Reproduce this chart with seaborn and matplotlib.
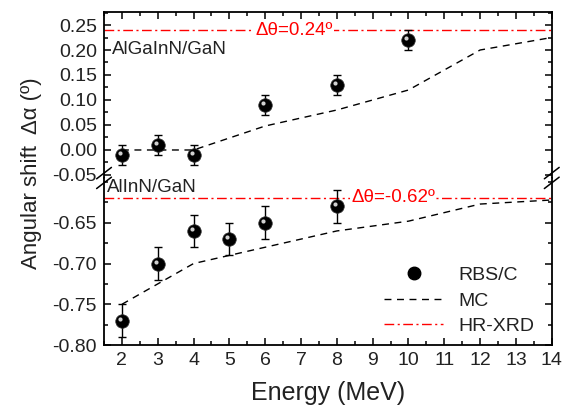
import numpy as np
import pandas as pd
import seaborn as sns
import matplotlib.pyplot as plt
from matplotlib.lines import Line2D
from matplotlib.ticker import MultipleLocator
from matplotlib.transforms import offset_copy

# AlGaInN/GaN (top panel)
e_top = [2, 3, 4, 6, 8, 10]
rbs_top = [-0.01, 0.01, -0.01, 0.09, 0.13, 0.22]
err_top = [0.02, 0.02, 0.02, 0.02, 0.02, 0.02]
mc_e_top = [2, 3, 4, 6, 8, 10, 12, 14]
mc_top = [0.0, 0.0, 0.0, 0.048, 0.08, 0.12, 0.20, 0.225]
xrd_top = 0.24

# AlInN/GaN (bottom panel)
e_bot = [2, 3, 4, 5, 6, 8]
rbs_bot = [-0.77, -0.70, -0.66, -0.67, -0.65, -0.63]
err_bot = [0.02, 0.02, 0.02, 0.02, 0.02, 0.02]
mc_e_bot = [2, 3, 4, 5, 6, 8, 10, 12, 14]
mc_bot = [-0.75, -0.725, -0.70, -0.69, -0.68, -0.66, -0.648, -0.627, -0.622]
xrd_bot = -0.62

sns.set_style("ticks")
plt.rcParams['font.family'] = ['Liberation Sans', 'DejaVu Sans']
plt.rcParams['xtick.direction'] = 'in'
plt.rcParams['ytick.direction'] = 'in'

fig = plt.figure(figsize=(5.7, 4.07), dpi=100)
ax1 = fig.add_axes([0.1825, 0.5627, 0.7855, 0.4078])
ax2 = fig.add_axes([0.1825, 0.1523, 0.7855, 0.4104])

dash_red = (0, (7, 2.5, 1.5, 2.5))
txt = '#222222'

def draw(ax, e, rbs, err, mce, mc, xrd):
    sns.lineplot(x=mce, y=mc, ax=ax, color='black', lw=1, linestyle=(0, (5, 4)))
    ax.axhline(xrd, color='red', lw=1, linestyle=dash_red, zorder=1)
    ax.errorbar(e, rbs, yerr=err, fmt='none', ecolor='black', elinewidth=1,
                capsize=3, capthick=1, zorder=3)
    sns.scatterplot(x=e, y=rbs, ax=ax, color='black', s=95, edgecolor='#333333',
                    linewidth=0.5, zorder=4)
    # small highlight (up-left) to imitate shaded spheres
    ax.plot(e, rbs, 'o', ls='none', color='#d0d0d0', markersize=3, mew=0, zorder=5,
            transform=offset_copy(ax.transData, fig=fig, x=-2, y=2, units='dots'))
    ax.set_xlim(1.5, 14)
    ax.xaxis.set_major_locator(MultipleLocator(1))
    ax.xaxis.set_minor_locator(MultipleLocator(0.5))
    ax.yaxis.set_major_locator(MultipleLocator(0.05))
    ax.yaxis.set_minor_locator(MultipleLocator(0.025))
    ax.tick_params(which='both', top=True, right=True, labelsize=14, colors=txt)
    ax.tick_params(which='both', color='black')
    ax.tick_params(which='major', length=5, width=1.1, pad=5)
    ax.tick_params(which='minor', length=3, width=1.1)
    for s in ax.spines.values():
        s.set_linewidth(1.3)
        s.set_color('black')

draw(ax1, e_top, rbs_top, err_top, mc_e_top, mc_top, xrd_top)
draw(ax2, e_bot, rbs_bot, err_bot, mc_e_bot, mc_bot, xrd_bot)

ax1.set_ylim(-0.056, 0.276)
ax2.set_ylim(-0.80, -0.595)
ax1.set_yticks([-0.05, 0.0, 0.05, 0.10, 0.15, 0.20, 0.25])
ax1.set_yticklabels(['-0.05', '0.00', '0.05', '0.10', '0.15', '0.20', '0.25'])
ax2.set_yticks([-0.80, -0.75, -0.70, -0.65])
ax2.set_yticklabels(['-0.80', '-0.75', '-0.70', '-0.65'])

ax1.spines['bottom'].set_visible(False)
ax2.spines['top'].set_visible(False)
ax1.tick_params(which='both', bottom=False, labelbottom=False)
ax2.tick_params(which='both', top=False)

# break marks
for xf in (0.0, 1.0):
    for dy in (-0.012, 0.012):
        fig.add_artist(Line2D([0.1825 + 0.7855 * xf - 0.013, 0.1825 + 0.7855 * xf + 0.013],
                              [0.5627 + dy - 0.014, 0.5627 + dy + 0.014],
                              color='black', lw=1.1, transform=fig.transFigure))

ax1.text(1.72, 0.201, 'AlGaInN/GaN', fontsize=13.5, color=txt, va='center')
ax2.text(1.58, -0.607, 'AlInN/GaN', fontsize=13.5, color=txt, va='center')
ax1.text(6.8, xrd_top, 'Δθ=0.24º', fontsize=13.5, color='red', ha='center', va='center',
         bbox=dict(facecolor='white', edgecolor='none', pad=1))
ax2.text(8.4, xrd_bot + 0.001, 'Δθ=-0.62º', fontsize=13.5, color='red', ha='left', va='center',
         bbox=dict(facecolor='white', edgecolor='none', pad=1))

handles = [Line2D([], [], marker='o', color='black', ls='none', markersize=9),
           Line2D([], [], color='black', lw=1, ls=(0, (5, 4))),
           Line2D([], [], color='red', lw=1, ls=dash_red)]
leg = ax2.legend(handles, ['RBS/C', 'MC', 'HR-XRD'], loc='lower right', frameon=False,
                 fontsize=14, handlelength=3, bbox_to_anchor=(1.0, -0.045), labelspacing=0.4,
                 handletextpad=0.8)
for t in leg.get_texts():
    t.set_color(txt)

ax2.set_xlabel('Energy (MeV)', fontsize=18, color=txt, labelpad=9)
fig.text(0.055, 0.575, 'Angular shift  Δα (º)', rotation=90, fontsize=16,
         color=txt, ha='center', va='center')

fig.savefig('out.png', dpi=100)
